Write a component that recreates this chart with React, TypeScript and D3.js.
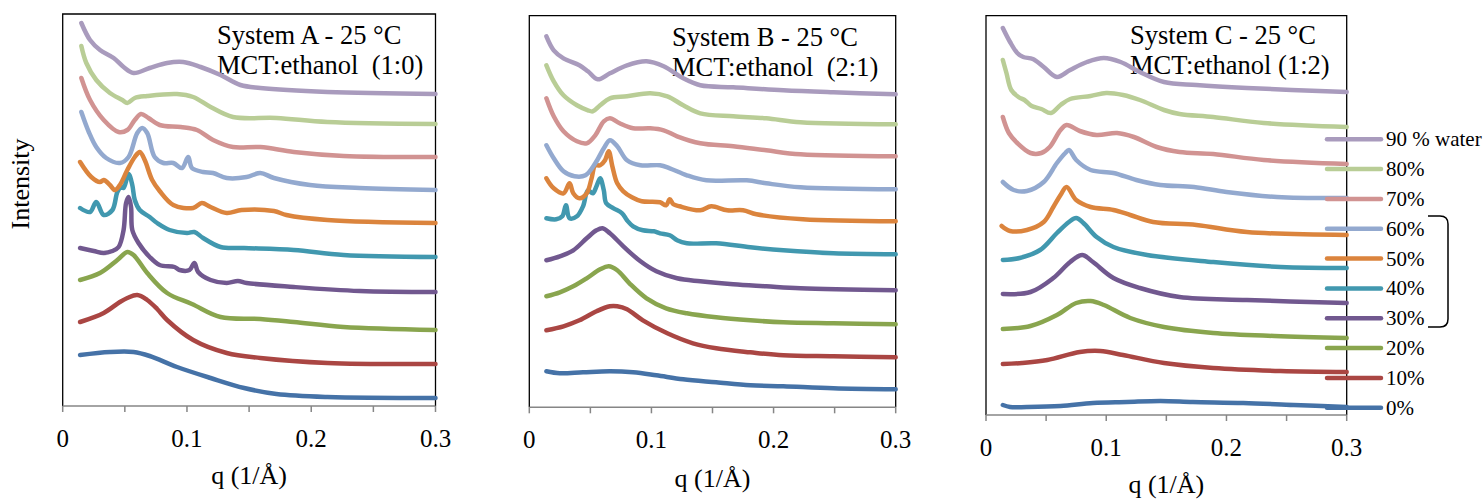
import React from 'react';
import * as d3 from 'd3';

type Pt = [number, number];

// water content of each curve, bottom curve first
const waterLabels = ['0%', '10%', '20%', '30%', '40%', '50%', '60%', '70%', '80%', '90 % water'];
const seriesColors = ['#4572A7', '#AA4643', '#89A54E', '#71588F', '#4198AF', '#DB843D', '#93A9CF', '#D19392', '#B9CD96', '#A99BBD'];
const qTicks = [0, 0.05, 0.1, 0.15, 0.2, 0.25, 0.3];
const qTickLabels = ['0', '', '0.1', '', '0.2', '', '0.3'];

// [q (1/Å), intensity (stacked, arbitrary units)]
const systemA: Pt[][] = [
  [[0.014, 5.1], [0.038, 5.4], [0.057, 5.4], [0.070, 5.0], [0.092, 3.9], [0.119, 2.8], [0.146, 1.8], [0.172, 1.2], [0.213, 0.9], [0.3, 0.8]],
  [[0.014, 8.4], [0.033, 9.3], [0.046, 10.4], [0.052, 10.8], [0.060, 11.1], [0.068, 10.6], [0.076, 9.7], [0.084, 8.6], [0.105, 6.6], [0.132, 5.3], [0.159, 4.8], [0.213, 4.3], [0.3, 4.2]],
  [[0.014, 12.6], [0.030, 13.3], [0.044, 14.6], [0.052, 15.4], [0.057, 15.1], [0.068, 13.3], [0.084, 11.3], [0.104, 10.2], [0.127, 8.9], [0.159, 8.7], [0.186, 8.4], [0.226, 7.9], [0.3, 7.6]],
  [[0.014, 15.8], [0.025, 15.5], [0.033, 15.3], [0.040, 15.5], [0.045, 15.9], [0.049, 17.6], [0.051, 20.3], [0.053, 20.9], [0.055, 19.9], [0.056, 17.6], [0.061, 16.3], [0.070, 14.9], [0.078, 14.1], [0.090, 13.9], [0.094, 13.6], [0.102, 13.6], [0.106, 14.3], [0.109, 13.4], [0.119, 12.6], [0.132, 12.3], [0.141, 12.5], [0.148, 12.3], [0.186, 11.9], [0.239, 11.5], [0.3, 11.4]],
  [[0.014, 19.8], [0.022, 19.4], [0.027, 20.4], [0.033, 19.1], [0.040, 19.6], [0.044, 21.4], [0.047, 21.9], [0.049, 21.8], [0.053, 23.2], [0.056, 22.1], [0.058, 20.6], [0.062, 19.6], [0.070, 18.9], [0.076, 18.3], [0.086, 17.6], [0.100, 17.3], [0.106, 17.4], [0.113, 16.8], [0.127, 15.9], [0.146, 15.8], [0.186, 15.6], [0.226, 15.1], [0.3, 14.9]],
  [[0.014, 24.4], [0.023, 22.9], [0.030, 22.4], [0.033, 22.6], [0.038, 22.1], [0.042, 21.6], [0.046, 22.1], [0.052, 23.6], [0.058, 24.9], [0.062, 25.4], [0.066, 24.6], [0.072, 22.6], [0.078, 21.5], [0.089, 20.1], [0.105, 19.8], [0.112, 20.3], [0.119, 19.9], [0.132, 19.3], [0.144, 19.6], [0.170, 19.5], [0.180, 19.1], [0.213, 18.6], [0.3, 18.3]],
  [[0.015, 29.4], [0.021, 27.4], [0.027, 25.9], [0.035, 24.8], [0.046, 24.3], [0.053, 24.9], [0.060, 27.3], [0.064, 27.8], [0.068, 27.3], [0.074, 24.9], [0.081, 24.3], [0.089, 24.3], [0.096, 23.8], [0.101, 24.9], [0.104, 23.8], [0.113, 23.4], [0.121, 23.3], [0.132, 22.8], [0.148, 22.9], [0.159, 23.3], [0.170, 22.8], [0.199, 22.1], [0.239, 21.8], [0.3, 21.6]],
  [[0.015, 32.8], [0.022, 30.6], [0.033, 28.6], [0.045, 27.4], [0.052, 27.6], [0.058, 28.6], [0.063, 29.2], [0.069, 28.8], [0.078, 28.1], [0.095, 27.9], [0.108, 27.6], [0.121, 26.6], [0.137, 25.9], [0.159, 25.9], [0.186, 25.4], [0.226, 25.0], [0.3, 24.9]],
  [[0.015, 36.0], [0.019, 34.3], [0.027, 32.6], [0.038, 31.3], [0.048, 30.6], [0.052, 30.3], [0.058, 30.8], [0.068, 31.0], [0.092, 31.2], [0.105, 30.9], [0.119, 29.9], [0.137, 28.9], [0.172, 28.8], [0.213, 28.4], [0.3, 28.2]],
  [[0.015, 38.3], [0.022, 36.6], [0.030, 35.6], [0.041, 34.8], [0.049, 33.9], [0.057, 33.3], [0.070, 33.8], [0.084, 34.3], [0.097, 34.4], [0.111, 33.9], [0.127, 33.1], [0.143, 32.1], [0.159, 31.8], [0.213, 31.4], [0.3, 31.2]],
];

const systemB: Pt[][] = [
  [[0.014, 3.6], [0.025, 3.4], [0.044, 3.5], [0.066, 3.6], [0.085, 3.5], [0.104, 3.2], [0.126, 2.8], [0.153, 2.5], [0.181, 2.2], [0.208, 2.1], [0.249, 1.9], [0.3, 1.8]],
  [[0.014, 7.7], [0.028, 8.1], [0.041, 8.7], [0.055, 9.6], [0.066, 10.1], [0.072, 10.1], [0.080, 9.8], [0.093, 8.7], [0.113, 7.4], [0.134, 6.4], [0.153, 5.9], [0.181, 5.5], [0.208, 5.2], [0.249, 5.1], [0.3, 5.0]],
  [[0.014, 11.1], [0.025, 11.5], [0.036, 12.1], [0.047, 12.9], [0.058, 13.8], [0.065, 14.1], [0.072, 13.7], [0.082, 12.4], [0.096, 10.9], [0.112, 9.9], [0.129, 9.4], [0.153, 9.0], [0.181, 8.7], [0.208, 8.5], [0.249, 8.4], [0.3, 8.3]],
  [[0.014, 14.7], [0.025, 15.1], [0.036, 15.7], [0.047, 16.9], [0.055, 17.7], [0.060, 17.9], [0.066, 17.4], [0.077, 16.1], [0.091, 14.6], [0.104, 13.6], [0.121, 12.9], [0.140, 12.6], [0.167, 12.3], [0.194, 12.1], [0.222, 11.9], [0.3, 11.7]],
  [[0.014, 18.9], [0.022, 18.8], [0.027, 19.1], [0.030, 20.2], [0.033, 18.9], [0.039, 19.1], [0.044, 20.1], [0.048, 21.7], [0.052, 21.4], [0.055, 22.1], [0.058, 22.9], [0.061, 21.7], [0.063, 20.4], [0.069, 19.9], [0.076, 19.4], [0.080, 18.7], [0.085, 18.1], [0.093, 17.7], [0.102, 17.6], [0.107, 17.4], [0.115, 17.2], [0.121, 16.7], [0.129, 16.4], [0.153, 16.4], [0.181, 16.0], [0.208, 15.7], [0.249, 15.4], [0.3, 15.3]],
  [[0.014, 22.9], [0.020, 21.9], [0.028, 21.4], [0.033, 22.4], [0.036, 21.4], [0.041, 20.9], [0.047, 21.4], [0.051, 22.9], [0.054, 24.2], [0.058, 24.2], [0.062, 24.7], [0.065, 25.6], [0.068, 24.1], [0.072, 22.4], [0.077, 21.6], [0.084, 21.0], [0.092, 20.6], [0.107, 20.5], [0.112, 20.2], [0.115, 20.8], [0.118, 20.3], [0.123, 20.1], [0.140, 19.7], [0.149, 20.1], [0.162, 19.7], [0.175, 19.7], [0.186, 19.3], [0.224, 18.8], [0.3, 18.6]],
  [[0.014, 26.2], [0.020, 24.9], [0.028, 23.6], [0.037, 23.1], [0.046, 23.2], [0.054, 24.4], [0.061, 25.9], [0.066, 26.7], [0.072, 26.1], [0.080, 24.7], [0.091, 24.2], [0.107, 24.2], [0.115, 23.9], [0.129, 23.2], [0.145, 22.7], [0.178, 22.7], [0.194, 22.4], [0.222, 22.0], [0.3, 21.8]],
  [[0.014, 30.9], [0.020, 29.1], [0.028, 27.6], [0.039, 26.6], [0.047, 26.4], [0.054, 27.2], [0.061, 28.6], [0.066, 28.9], [0.074, 28.4], [0.085, 27.9], [0.099, 27.9], [0.110, 27.7], [0.121, 27.1], [0.140, 26.4], [0.167, 26.1], [0.194, 25.7], [0.222, 25.3], [0.3, 25.1]],
  [[0.014, 34.2], [0.020, 32.6], [0.028, 31.2], [0.039, 30.2], [0.048, 29.7], [0.052, 29.6], [0.058, 30.2], [0.066, 30.9], [0.080, 31.1], [0.099, 31.4], [0.113, 31.1], [0.126, 30.2], [0.140, 29.4], [0.167, 29.1], [0.194, 28.9], [0.222, 28.5], [0.3, 28.3]],
  [[0.014, 37.1], [0.020, 35.7], [0.028, 34.9], [0.041, 34.2], [0.048, 33.6], [0.056, 32.8], [0.066, 33.4], [0.080, 34.2], [0.096, 34.6], [0.110, 34.1], [0.126, 32.9], [0.140, 32.2], [0.167, 32.0], [0.208, 31.7], [0.249, 31.5], [0.3, 31.3]],
];

const systemC: Pt[][] = [
  [[0.014, 1.0], [0.020, 0.8], [0.034, 0.8], [0.062, 0.9], [0.089, 1.2], [0.117, 1.3], [0.145, 1.4], [0.172, 1.3], [0.214, 1.2], [0.256, 1.0], [0.3, 0.8]],
  [[0.014, 5.1], [0.030, 5.2], [0.051, 5.5], [0.078, 6.3], [0.095, 6.4], [0.114, 6.0], [0.148, 5.2], [0.189, 4.7], [0.245, 4.4], [0.3, 4.3]],
  [[0.014, 8.6], [0.037, 8.9], [0.059, 10.0], [0.075, 11.2], [0.087, 11.4], [0.098, 11.0], [0.120, 9.7], [0.148, 8.8], [0.189, 8.2], [0.240, 7.9], [0.3, 7.7]],
  [[0.014, 12.1], [0.037, 12.3], [0.056, 13.7], [0.070, 15.3], [0.080, 16.0], [0.089, 15.3], [0.106, 13.7], [0.128, 12.7], [0.161, 11.8], [0.217, 11.5], [0.3, 11.2]],
  [[0.014, 15.5], [0.028, 15.7], [0.045, 16.5], [0.059, 18.2], [0.069, 19.3], [0.075, 19.7], [0.081, 19.2], [0.092, 17.8], [0.106, 16.8], [0.134, 16.0], [0.189, 15.3], [0.245, 14.8], [0.3, 14.7]],
  [[0.013, 18.9], [0.020, 18.4], [0.034, 18.5], [0.048, 19.3], [0.056, 20.8], [0.062, 22.0], [0.067, 22.8], [0.075, 21.5], [0.087, 20.8], [0.106, 20.5], [0.120, 20.0], [0.139, 19.3], [0.175, 19.0], [0.217, 18.3], [0.3, 18.0]],
  [[0.014, 23.3], [0.023, 22.5], [0.034, 22.4], [0.048, 23.3], [0.059, 25.2], [0.066, 26.2], [0.069, 26.5], [0.075, 25.5], [0.087, 24.5], [0.106, 24.2], [0.125, 23.5], [0.145, 23.0], [0.173, 22.8], [0.200, 22.3], [0.242, 21.8], [0.3, 21.7]],
  [[0.014, 29.8], [0.019, 28.2], [0.026, 27.2], [0.037, 26.2], [0.046, 26.2], [0.053, 26.8], [0.062, 28.5], [0.067, 29.0], [0.078, 28.4], [0.092, 28.0], [0.109, 28.2], [0.123, 27.8], [0.142, 26.8], [0.161, 26.3], [0.189, 26.1], [0.231, 25.5], [0.3, 25.1]],
  [[0.014, 35.5], [0.017, 34.2], [0.021, 32.5], [0.027, 31.8], [0.032, 31.5], [0.038, 30.9], [0.046, 30.6], [0.054, 30.2], [0.062, 31.0], [0.070, 31.6], [0.087, 31.9], [0.100, 32.2], [0.114, 32.0], [0.128, 31.5], [0.148, 30.5], [0.161, 30.1], [0.189, 29.8], [0.231, 29.2], [0.3, 28.8]],
  [[0.014, 38.7], [0.020, 37.3], [0.026, 36.2], [0.031, 35.8], [0.039, 35.6], [0.048, 34.8], [0.059, 33.8], [0.070, 34.5], [0.084, 35.3], [0.098, 35.7], [0.112, 35.3], [0.128, 34.3], [0.148, 33.3], [0.175, 33.0], [0.217, 32.7], [0.3, 32.3]],
];

const FONT = "'Liberation Serif', 'Times New Roman', serif";
const AXIS_GREY = '#868686';

const panels = [
  { id: 'A', data: systemA, left: 62.7, right: 435.5, top: 14, bottom: 406, title: ['System A - 25 °C', 'MCT:ethanol  (1:0)'], titleX: 217, titleY: 44, tickY: 447, labelY: 484 },
  { id: 'B', data: systemB, left: 529.3, right: 895.7, top: 15.7, bottom: 407.3, title: ['System B - 25 °C', 'MCT:ethanol  (2:1)'], titleX: 672, titleY: 46, tickY: 448, labelY: 487 },
  { id: 'C', data: systemC, left: 986, right: 1346.7, top: 15.7, bottom: 415, title: ['System C - 25 °C', 'MCT:ethanol (1:2)'], titleX: 1130, titleY: 44, tickY: 456, labelY: 493 },
];

type PanelProps = (typeof panels)[number];

function Panel(p: PanelProps) {
  const x = d3.scaleLinear().domain([0, 0.3]).range([p.left, p.right]);
  // 10 px of plot height per intensity unit
  const y = d3.scaleLinear().domain([0, (p.bottom - p.top) / 10]).range([p.bottom, p.top]);
  const line = d3.line<Pt>().x(d => x(d[0])).y(d => y(d[1])).curve(d3.curveCatmullRom.alpha(0.5));

  return (
    <g>
      <path d={`M${p.left},${p.bottom}V${p.top}H${p.right}V${p.bottom}`} fill="none" stroke="#000" strokeWidth={1.3} />
      <line x1={p.left} x2={p.right} y1={p.bottom} y2={p.bottom} stroke={AXIS_GREY} strokeWidth={1.5} />
      {qTicks.map((t, i) => (
        <g key={i}>
          <line x1={x(t)} x2={x(t)} y1={p.bottom} y2={p.bottom + 6} stroke={AXIS_GREY} strokeWidth={1.5} />
          {qTickLabels[i] && (
            <text x={x(t)} y={p.tickY} textAnchor="middle" fontSize={25} fontFamily={FONT}>{qTickLabels[i]}</text>
          )}
        </g>
      ))}
      <text x={(p.left + p.right) / 2} y={p.labelY} textAnchor="middle" fontSize={26} fontFamily={FONT}>q (1/Å)</text>
      {p.title.map((t, i) => (
        <text key={i} x={p.titleX} y={p.titleY + i * 30} fontSize={26.5} fontFamily={FONT} style={{ whiteSpace: 'pre' }}>{t}</text>
      ))}
      {p.data.map((s, i) => (
        <path key={i} d={line(s) || ''} fill="none" stroke={seriesColors[i]} strokeWidth={4.5} strokeLinecap="round" strokeLinejoin="round" />
      ))}
    </g>
  );
}

function Legend() {
  const rows = d3.range(waterLabels.length).reverse();
  const ry = d3.scalePoint<number>().domain(rows).range([139.3, 407.7]);
  return (
    <g>
      {rows.map(i => (
        <g key={i}>
          <line x1={1327} x2={1381} y1={ry(i)} y2={ry(i)} stroke={seriesColors[i]} strokeWidth={4.5} strokeLinecap="round" />
          <text x={1386} y={(ry(i) as number) + 7} fontSize={21} fontFamily={FONT}>{waterLabels[i]}</text>
        </g>
      ))}
      <path d="M1428,216H1440Q1448,216 1448,224V319Q1448,327 1440,327H1428" fill="none" stroke="#000" strokeWidth={1.5} />
    </g>
  );
}

export default function App() {
  return (
    <div style={{ position: 'absolute', left: 0, top: 0 }}>
      <svg width={1484} height={500} style={{ display: 'block', background: '#fff' }}>
        <text transform="translate(29,184) rotate(-90)" textAnchor="middle" fontSize={26} fontFamily={FONT}>Intensity</text>
        {panels.map(p => <Panel key={p.id} {...p} />)}
        <Legend />
      </svg>
    </div>
  );
}
